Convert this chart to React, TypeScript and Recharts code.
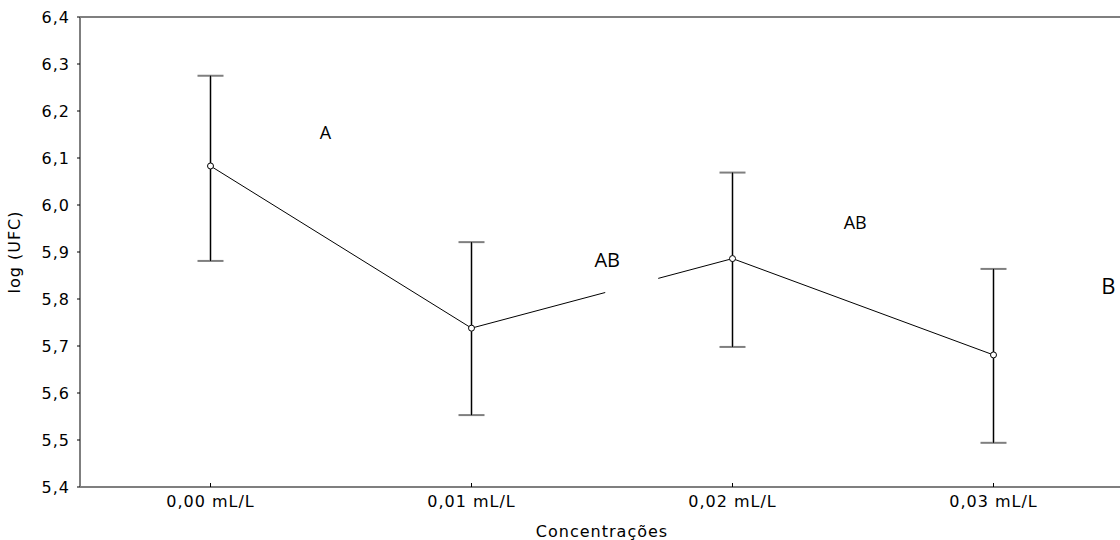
import React from "react";
import {
  ComposedChart,
  Line,
  XAxis,
  YAxis,
  ErrorBar,
  ReferenceLine,
  ReferenceDot,
} from "recharts";

// concentrations on the x axis
const categories = ["0,00 mL/L", "0,01 mL/L", "0,02 mL/L", "0,03 mL/L"];
// mean log(UFC) and the ends of the error bars
const means = [6.083, 5.738, 5.886, 5.681];
const upper = [6.275, 5.921, 6.069, 5.864];
const lower = [5.881, 5.553, 5.698, 5.494];
const yTicks = [5.4, 5.5, 5.6, 5.7, 5.8, 5.9, 6.0, 6.1, 6.2, 6.3, 6.4];

// group letters: anchored at a category, shifted right by part of a band
const letters = ["A", "AB", "AB", "B"];
const letterCat = [0, 1, 2, 3];
const letterShift = [0.44, 0.52, 0.47, 0.44];
const letterY = [6.155, 5.883, 5.964, 5.83];
const letterSize = [18, 20, 18, 22];

const data = categories.map((c, i) => ({
  name: c,
  mean: means[i],
  err: [means[i] - lower[i], upper[i] - means[i]],
}));

const fmt = (v: number) => v.toFixed(1).replace(".", ",");

const tickFont = { fontFamily: "DejaVu Sans", fontSize: 16, fill: "#000", letterSpacing: 1 };
const axisGray = "#7f7f7f";

const CHART_W = 1130;
const MARGIN = { top: 17, right: 6, bottom: 0, left: 0 };
const Y_W = 80;
const BAND = (CHART_W - MARGIN.left - MARGIN.right - Y_W) / categories.length;

function Letter(props: any) {
  const { cx, cy, text, size, gap } = props;
  return (
    <g>
      {gap && <rect x={cx - 2} y={cy - 18} width={53} height={58} fill="#fff" />}
      <text
        x={cx}
        y={cy}
        textAnchor="middle"
        dominantBaseline="central"
        fontFamily="Open Sans"
        fontSize={size}
        fill="#000"
      >
        {text}
      </text>
    </g>
  );
}

export default function App() {
  return (
    <div
      style={{
        position: "absolute",
        left: 0,
        top: 0,
        width: 1120,
        height: 540,
        overflow: "hidden",
        background: "#fff",
      }}
    >
      <ComposedChart width={CHART_W} height={540} data={data} margin={MARGIN}>
        <XAxis
          dataKey="name"
          scale="band"
          height={53}
          tick={tickFont}
          tickSize={-4}
          tickMargin={13}
          tickLine={{ stroke: "#000" }}
          axisLine={{ stroke: axisGray, strokeWidth: 2 }}
          label={{
            value: "Concentrações",
            position: "insideBottom",
            offset: 3,
            style: tickFont,
          }}
        />
        <YAxis
          domain={[5.4, 6.4]}
          ticks={yTicks}
          tickFormatter={fmt}
          width={Y_W}
          tick={tickFont}
          tickSize={3}
          tickMargin={7}
          tickLine={{ stroke: "#000" }}
          axisLine={{ stroke: axisGray, strokeWidth: 2 }}
          label={{
            value: "log (UFC)",
            angle: -90,
            position: "insideLeft",
            offset: 14,
            style: { ...tickFont, textAnchor: "middle" },
          }}
        />
        <ReferenceLine y={6.4} stroke={axisGray} strokeWidth={2} />
        <Line
          dataKey="mean"
          stroke="#000"
          strokeWidth={1}
          isAnimationActive={false}
          dot={{ r: 3, fill: "#fff", stroke: "#000", strokeWidth: 1 }}
          activeDot={false}
        >
          <ErrorBar dataKey="err" direction="y" width={13} stroke={axisGray} strokeWidth={2} isAnimationActive={false} />
          <ErrorBar dataKey="err" direction="y" width={0} stroke="#000" strokeWidth={1} isAnimationActive={false} />
        </Line>
        {letters.map((t, i) => (
          <ReferenceDot
            key={i}
            x={categories[letterCat[i]]}
            y={letterY[i]}
            ifOverflow="visible"
            shape={(p: any) => (
              <Letter
                cx={p.cx + letterShift[i] * BAND}
                cy={p.cy}
                text={t}
                size={letterSize[i]}
                gap={i === 1}
              />
            )}
          />
        ))}
      </ComposedChart>
    </div>
  );
}
